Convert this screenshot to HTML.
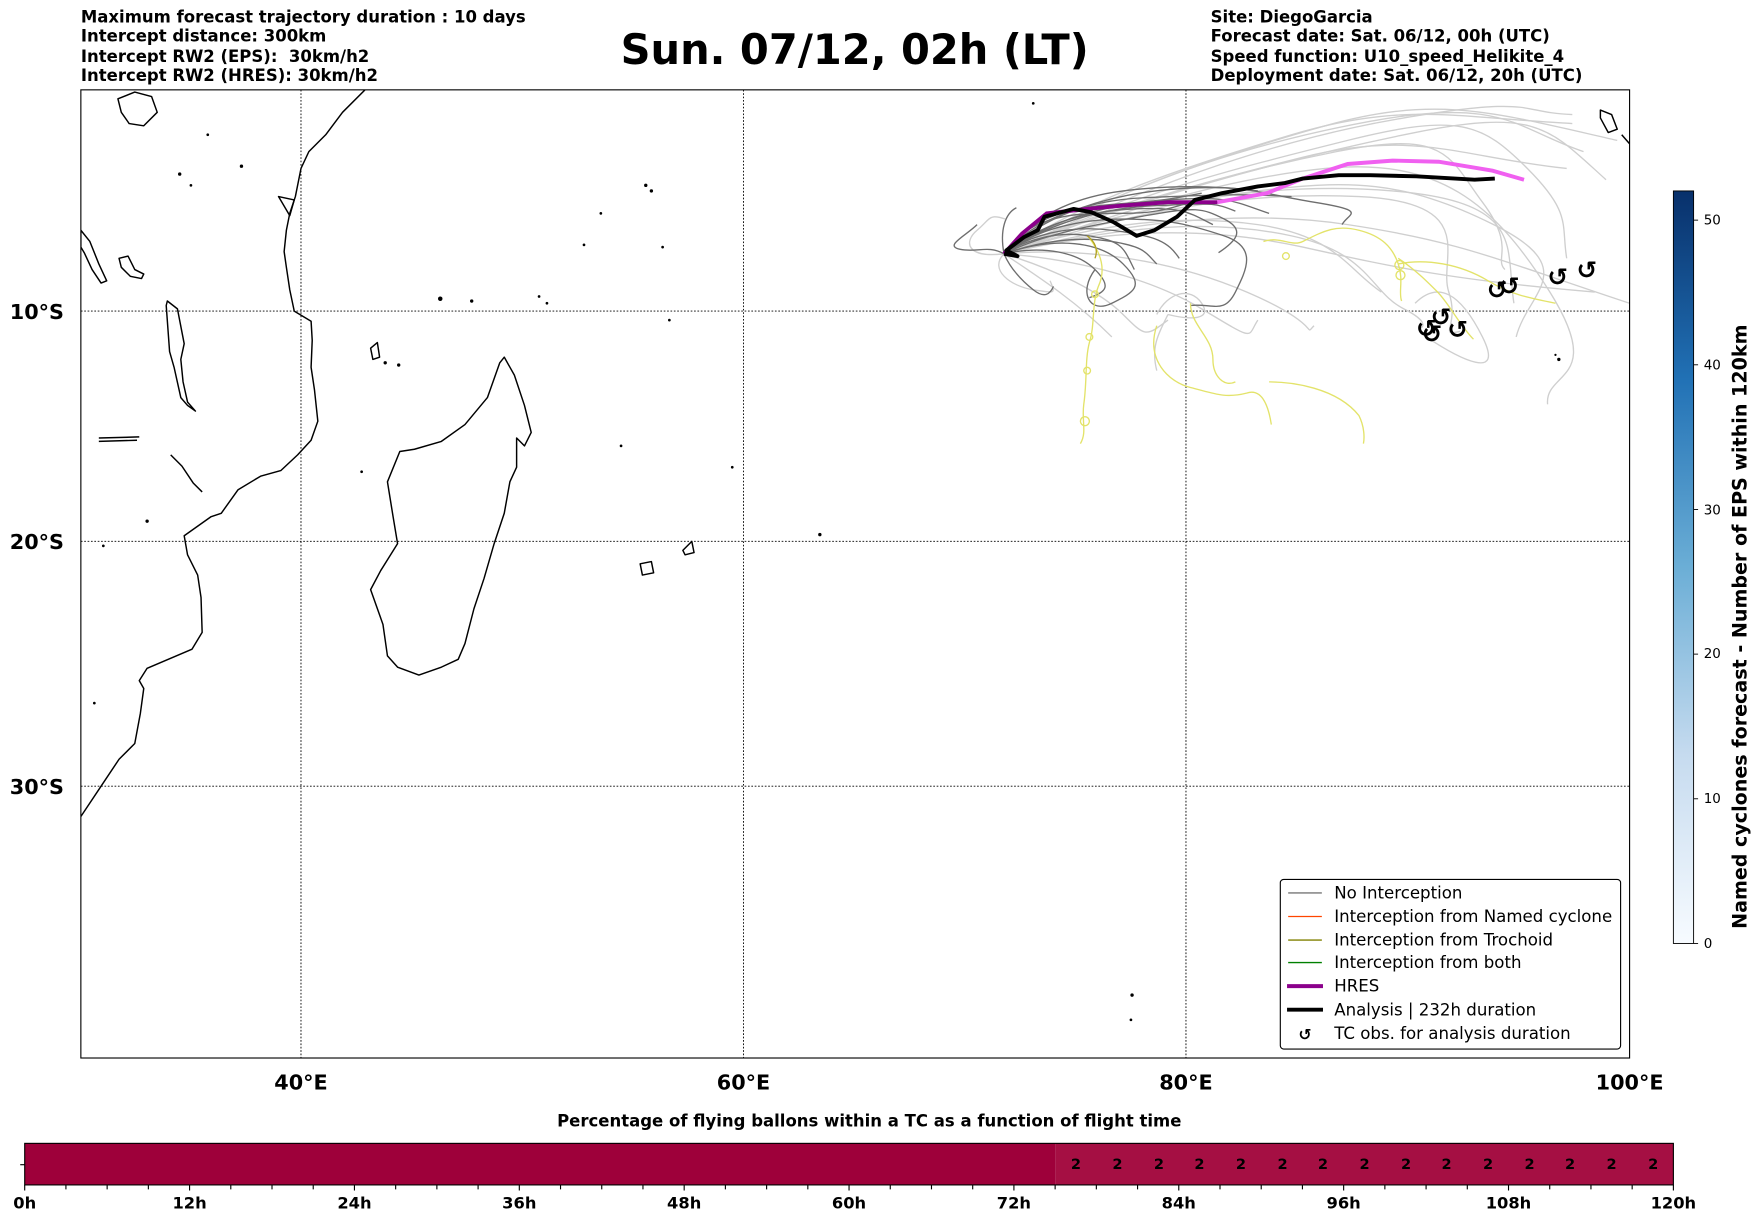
<!DOCTYPE html>
<html><head><meta charset="utf-8"><style>html,body{margin:0;padding:0;background:#fff}svg{display:block}</style></head>
<body>
<svg width="1752" height="1213" viewBox="0 0 1560 1080" preserveAspectRatio="none" xmlns="http://www.w3.org/2000/svg" font-family="DejaVu Sans, Liberation Sans, sans-serif">
<defs>
<linearGradient id="cb" x1="0" y1="1" x2="0" y2="0">
<stop offset="0" stop-color="#f7fbff"/><stop offset="0.25" stop-color="#c6dbef"/><stop offset="0.5" stop-color="#6baed6"/><stop offset="0.75" stop-color="#2171b5"/><stop offset="1" stop-color="#08306b"/>
</linearGradient>
<clipPath id="mapclip"><rect x="72" y="80" width="1379" height="862"/></clipPath>
</defs>
<g font-weight="bold" font-size="14.7" fill="#000">
<text x="72" y="20">Maximum forecast trajectory duration : 10 days</text>
<text x="72" y="37">Intercept distance: 300km</text>
<text x="72" y="55" xml:space="preserve">Intercept RW2 (EPS):  30km/h2</text>
<text x="72" y="72">Intercept RW2 (HRES): 30km/h2</text>
<text x="1078" y="20">Site: DiegoGarcia</text>
<text x="1078" y="37">Forecast date: Sat. 06/12, 00h (UTC)</text>
<text x="1078" y="55">Speed function: U10_speed_Helikite_4</text>
<text x="1078" y="72">Deployment date: Sat. 06/12, 20h (UTC)</text>
</g>
<text x="761" y="57" text-anchor="middle" font-weight="bold" font-size="37">Sun. 07/12, 02h (LT)</text>

<g clip-path="url(#mapclip)" fill="none">
<g stroke="#000" stroke-width="0.8" stroke-dasharray="1.5,1.5">
<line x1="268" y1="80" x2="268" y2="942"/><line x1="662" y1="80" x2="662" y2="942"/><line x1="1056" y1="80" x2="1056" y2="942"/>
<line x1="72" y1="277" x2="1451" y2="277"/><line x1="72" y1="482" x2="1451" y2="482"/><line x1="72" y1="700" x2="1451" y2="700"/>
</g>
<g stroke="#000" stroke-width="1.3" stroke-linejoin="round">
<polyline points="325,80 305,100 290,120 275,135 268,150 263,175 258,190 255,205 253,224 255,238 258,258 262,277 277,286 278,303 277,327 280,347 283,375 277,392 265,405 250,419 232,424 212,436 197,457 188,460 164,477 167,494 176,512 179,532 180,563 171,578 131,595 124,606 128,613 125,635 120,662 106,676 90,700 72,727"/>
<polygon points="449,318 458,334 467,361 473,385 467,397 460,390 460,416 454,429 449,457 440,484 431,515 422,542 414,573 408,587 393,594 373,601 354,594 345,584 341,556 330,525 339,508 354,484 350,460 345,429 356,402 369,400 393,393 414,378 434,354 445,323"/>
<polygon points="149,268 158,275 164,306 161,320 163,340 167,358 174,366 167,361 161,354 155,327 151,313 148,272"/>
<polygon points="72,205 80,215 88,235 95,250 90,252 82,240 75,225 72,220"/>
<polygon points="106,230 114,228 120,240 128,244 126,248 116,246 108,238"/>
<path d="M88,390 L124,389 M88,393 L122,392"/>
<path d="M152,405 L162,415 L172,430 L180,438"/>
<path d="M105,88 L120,82 L135,86 L140,100 L128,112 L115,110 L108,100 Z"/>
<path d="M248,175 L262,178 L258,192 Z"/>
<path d="M570,502 L580,500 L582,510 L572,512 Z"/>
<path d="M608,490 L616,482 L618,492 L610,494 Z"/>
<path d="M1425,98 L1435,102 L1440,115 L1432,118 L1425,105 Z"/>
<path d="M1444,120 L1451,128"/>
<path d="M330,310 L336,305 L338,318 L332,320 Z"/>
</g>
<g fill="#000">
<circle cx="160" cy="155" r="1.5"/><circle cx="185" cy="120" r="1.2"/><circle cx="215" cy="148" r="1.5"/><circle cx="170" cy="165" r="1.2"/>
<circle cx="392" cy="266" r="2"/><circle cx="420" cy="268" r="1.5"/><circle cx="480" cy="264" r="1.2"/><circle cx="487" cy="270" r="1.2"/>
<circle cx="575" cy="165" r="1.5"/><circle cx="580" cy="170" r="1.5"/><circle cx="535" cy="190" r="1.2"/><circle cx="520" cy="218" r="1.2"/><circle cx="590" cy="220" r="1.2"/>
<circle cx="596" cy="285" r="1.2"/><circle cx="343" cy="323" r="1.5"/><circle cx="355" cy="325" r="1.5"/><circle cx="322" cy="420" r="1.2"/>
<circle cx="131" cy="464" r="1.5"/><circle cx="92" cy="486" r="1.2"/><circle cx="553" cy="397" r="1.2"/><circle cx="652" cy="416" r="1.2"/>
<circle cx="730" cy="476" r="1.5"/><circle cx="1008" cy="886" r="1.5"/><circle cx="1007" cy="908" r="1.2"/><circle cx="1388" cy="320" r="1.5"/><circle cx="1385" cy="316" r="1"/><circle cx="920" cy="92" r="1.2"/><circle cx="84" cy="626" r="1.2"/>
</g>

<g stroke="#cfcfcf" stroke-width="1.2">
<path d="M894,226 C960,180 1050,150 1150,120 S1300,105 1400,110"/>
<path d="M894,226 C980,175 1080,140 1180,112 S1330,100 1440,125"/>
<path d="M894,226 C990,170 1100,130 1220,108 S1350,115 1410,135"/>
<path d="M894,226 C970,190 1060,165 1160,140 S1300,140 1395,150"/>
<path d="M894,226 C960,200 1040,180 1120,170 S1250,160 1330,200 S1360,260 1350,300"/>
<path d="M894,226 C980,195 1080,160 1180,150 S1330,180 1380,260 S1375,330 1378,360"/>
<path d="M894,226 C990,200 1100,185 1200,200 S1330,230 1451,270"/>
<path d="M894,226 C980,205 1070,200 1160,220 S1300,250 1420,260"/>
<path d="M894,226 C960,220 1040,230 1110,260 S1160,300 1170,290"/>
<path d="M894,226 C950,230 1020,245 1070,275 S1110,300 1120,285"/>
<path d="M894,226 C940,240 980,260 1000,280 S1020,300 1040,285"/>
<path d="M894,226 C930,250 960,270 990,300"/>
<path d="M894,226 C970,200 1050,190 1120,200 S1200,240 1230,260"/>
<path d="M894,226 C1000,180 1150,140 1260,118 S1380,115 1430,160"/>
<path d="M894,226 C1010,170 1130,125 1250,105 S1350,100 1400,102"/>
<path d="M894,226 C1000,190 1100,170 1210,175 S1280,230 1290,260 S1280,300 1300,295"/>
<path d="M894,226 C1000,185 1120,160 1240,170 S1340,220 1348,270"/>
<path d="M1260,270 C1280,250 1300,260 1320,300 S1300,320 1270,300"/>
<path d="M894,226 C860,230 858,215 870,205 S880,190 895,195"/>
<path d="M894,226 C880,240 900,255 920,258 S940,262 935,250"/>
<path d="M1030,280 C1040,260 1060,255 1070,270 S1060,285 1040,280"/>
<path d="M1040,280 C1030,300 1025,310 1030,330"/>
<path d="M894,226 C1000,175 1100,150 1200,125 S1320,110 1360,150 S1390,200 1395,230"/>
<path d="M894,226 C990,185 1090,155 1190,135 S1290,140 1320,180 S1330,230 1340,240"/>
<path d="M894,226 C1000,200 1080,195 1150,210 S1220,260 1250,275 S1260,295 1265,290"/>
</g>
<g stroke="#6e6e6e" stroke-width="1.2">
<path d="M894,226 C920,190 960,175 1000,170 S1080,165 1120,170"/>
<path d="M894,226 C920,195 970,178 1020,176 S1100,172 1150,175"/>
<path d="M894,226 C930,200 980,185 1030,183 S1080,180 1100,188"/>
<path d="M894,226 C920,205 960,195 1000,195 S1060,200 1090,210 S1110,240 1100,260 S1080,270 1060,272"/>
<path d="M894,226 C910,215 940,205 970,210 S1000,220 1010,240"/>
<path d="M894,226 C910,200 940,190 980,190 S1030,190 1060,180"/>
<path d="M894,226 C930,190 990,172 1050,168 S1120,172 1170,180 S1200,190 1195,200"/>
<path d="M894,226 C915,210 950,200 990,205 S1040,215 1050,230"/>
<path d="M894,226 C880,218 870,225 855,222 S860,210 870,200"/>
<path d="M894,226 C900,240 910,250 920,258 S935,262 938,255"/>
<path d="M894,226 C890,205 895,190 905,185"/>
<path d="M894,226 C940,210 980,215 1000,235 S1010,260 990,270 S960,260 975,240"/>
<path d="M894,226 C930,208 975,200 1020,192 S1070,185 1090,195 S1100,215 1085,225"/>
<path d="M894,226 C925,200 965,188 1010,186 S1060,190 1080,200"/>
<path d="M894,226 C935,195 985,182 1040,178 S1100,180 1130,190"/>
<path d="M894,226 C915,195 950,185 990,182 S1040,178 1070,172"/>
<path d="M894,226 C925,215 960,210 990,215 S1020,225 1030,235"/>
<path d="M894,226 C930,218 960,225 975,240 S985,260 970,265"/>
</g>
<g stroke="#e3e36a" stroke-width="1.2">
<path d="M970,212 C980,225 985,240 978,255 C972,270 975,290 970,305 C966,320 968,340 965,360 C963,375 968,385 962,395"/>
<circle cx="966" cy="375" r="4"/><circle cx="968" cy="330" r="3"/><circle cx="970" cy="300" r="3"/><circle cx="975" cy="262" r="3"/>
<path d="M1030,290 C1020,320 1040,340 1060,345 C1080,350 1090,355 1110,350 C1125,345 1130,365 1132,378"/>
<path d="M1060,270 C1060,290 1080,300 1080,320 C1080,335 1090,345 1100,340"/>
<path d="M1130,340 C1150,340 1190,345 1210,370 C1215,380 1215,390 1214,395"/>
<path d="M1125,215 C1140,210 1150,220 1160,215 C1180,205 1190,200 1210,205 C1230,210 1240,220 1245,235 C1250,250 1245,260 1248,268"/>
<path d="M1245,230 C1260,240 1270,250 1280,260 C1290,270 1300,290 1312,302"/>
<path d="M1245,235 C1270,230 1300,235 1325,250 C1345,262 1360,265 1385,270"/>
<circle cx="1246" cy="236" r="4"/><circle cx="1247" cy="245" r="4"/><circle cx="1145" cy="228" r="3"/>
</g>
<g stroke="#b0a020" stroke-width="1.2"><path d="M968,210 C975,215 978,222 975,230"/></g>
<polyline points="894,226 910,208 932,190 968,186 1000,183 1040,180 1084,180" stroke="#8b008b" stroke-width="3.5"/>
<polyline points="1084,180 1128,172 1160,159 1200,146 1240,143 1281,144 1329,152 1357,160" stroke="#f060f0" stroke-width="3.5"/>
<polyline points="894,226 906,228 896,223 912,211 924,205 930,193 956,186 972,189 992,198 1012,210 1028,205 1048,193 1064,178 1088,172 1120,166 1144,163 1160,159 1192,156 1220,156 1261,157 1313,160 1331,159" stroke="#000" stroke-width="3.5" stroke-linejoin="round"/>
</g>
<g font-weight="bold" font-size="22" fill="#000" text-anchor="middle">
<text x="1270" y="300">↺</text><text x="1283" y="290">↺</text><text x="1275" y="305">↺</text><text x="1298" y="301">↺</text>
<text x="1333" y="266">↺</text><text x="1344" y="262">↺</text><text x="1387" y="254">↺</text><text x="1413" y="248">↺</text>
</g>
<rect x="72" y="80" width="1379" height="862" fill="none" stroke="#000" stroke-width="1"/>

<g font-weight="bold" font-size="18.5" fill="#000">
<text x="57" y="284" text-anchor="end">10°S</text>
<text x="57" y="489" text-anchor="end">20°S</text>
<text x="57" y="707" text-anchor="end">30°S</text>
<text x="268" y="970" text-anchor="middle">40°E</text>
<text x="662" y="970" text-anchor="middle">60°E</text>
<text x="1056" y="970" text-anchor="middle">80°E</text>
<text x="1451" y="970" text-anchor="middle">100°E</text>
</g>

<rect x="1140" y="783" width="303" height="151" rx="3" fill="#fff" stroke="#000" stroke-width="1"/>
<g stroke-width="1.2">
<line x1="1147" y1="795" x2="1177" y2="795" stroke="#777"/>
<line x1="1147" y1="816" x2="1177" y2="816" stroke="#ff4500"/>
<line x1="1147" y1="837" x2="1177" y2="837" stroke="#808000"/>
<line x1="1147" y1="857" x2="1177" y2="857" stroke="#008000"/>
<line x1="1146" y1="878" x2="1178" y2="878" stroke="#8b008b" stroke-width="3.5"/>
<line x1="1146" y1="899" x2="1178" y2="899" stroke="#000" stroke-width="3.5"/>
</g>
<g font-size="14.8" fill="#000">
<text x="1188" y="800">No Interception</text>
<text x="1188" y="821">Interception from Named cyclone</text>
<text x="1188" y="842">Interception from Trochoid</text>
<text x="1188" y="862">Interception from both</text>
<text x="1188" y="883">HRES</text>
<text x="1188" y="904">Analysis | 232h duration</text>
<text x="1188" y="925">TC obs. for analysis duration</text>
<text x="1162" y="926" text-anchor="middle" font-weight="bold" font-size="14">↺</text>
</g>

<rect x="1490" y="170" width="18" height="670" fill="url(#cb)" stroke="#000" stroke-width="0.8"/>
<g stroke="#000" stroke-width="0.8">
<line x1="1508" y1="840" x2="1512" y2="840"/><line x1="1508" y1="711.2" x2="1512" y2="711.2"/><line x1="1508" y1="582.4" x2="1512" y2="582.4"/><line x1="1508" y1="453.6" x2="1512" y2="453.6"/><line x1="1508" y1="324.8" x2="1512" y2="324.8"/><line x1="1508" y1="196" x2="1512" y2="196"/>
</g>
<g font-size="12" fill="#000">
<text x="1517" y="844">0</text><text x="1517" y="715">10</text><text x="1517" y="586">20</text><text x="1517" y="458">30</text><text x="1517" y="329">40</text><text x="1517" y="200">50</text>
</g>
<text transform="translate(1555,558) rotate(-90)" text-anchor="middle" font-weight="bold" font-size="17">Named cyclones forecast - Number of EPS within 120km</text>

<text x="774" y="1003" text-anchor="middle" font-weight="bold" font-size="14.7">Percentage of flying ballons within a TC as a function of flight time</text>
<rect x="22" y="1018" width="918" height="37" fill="#9e003a"/>
<rect x="940" y="1018" width="550" height="37" fill="#a50f43"/>
<rect x="22" y="1018" width="1468" height="37" fill="none" stroke="#000" stroke-width="1"/>
<line x1="18" y1="1037" x2="22" y2="1037" stroke="#000"/>
<g font-weight="bold" font-size="13" text-anchor="middle" fill="#000">
<text x="958" y="1041">2</text><text x="995" y="1041">2</text><text x="1032" y="1041">2</text><text x="1068" y="1041">2</text><text x="1105" y="1041">2</text><text x="1142" y="1041">2</text><text x="1178" y="1041">2</text><text x="1215" y="1041">2</text><text x="1252" y="1041">2</text><text x="1288" y="1041">2</text><text x="1325" y="1041">2</text><text x="1362" y="1041">2</text><text x="1398" y="1041">2</text><text x="1435" y="1041">2</text><text x="1472" y="1041">2</text>
</g>
<g stroke="#000" stroke-width="1">
<path d="M22,1055v5M58.7,1055v4M95.4,1055v4M132.1,1055v4M168.8,1055v5M205.5,1055v4M242.2,1055v4M278.9,1055v4M315.6,1055v5M352.3,1055v4M389,1055v4M425.7,1055v4M462.4,1055v5M499.1,1055v4M535.8,1055v4M572.5,1055v4M609.2,1055v5M645.9,1055v4M682.6,1055v4M719.3,1055v4M756,1055v5M792.7,1055v4M829.4,1055v4M866.1,1055v4M902.8,1055v5M939.5,1055v4M976.2,1055v4M1012.9,1055v4M1049.6,1055v5M1086.3,1055v4M1123,1055v4M1159.7,1055v4M1196.4,1055v5M1233.1,1055v4M1269.8,1055v4M1306.5,1055v4M1343.2,1055v5M1379.9,1055v4M1416.6,1055v4M1453.3,1055v4M1490,1055v5"/>
</g>
<g font-weight="bold" font-size="14.5" text-anchor="middle" fill="#000">
<text x="22" y="1076">0h</text><text x="168.8" y="1076">12h</text><text x="315.6" y="1076">24h</text><text x="462.4" y="1076">36h</text><text x="609.2" y="1076">48h</text><text x="756" y="1076">60h</text><text x="902.8" y="1076">72h</text><text x="1049.6" y="1076">84h</text><text x="1196.4" y="1076">96h</text><text x="1343.2" y="1076">108h</text><text x="1490" y="1076">120h</text>
</g>
</svg>
</body></html>
